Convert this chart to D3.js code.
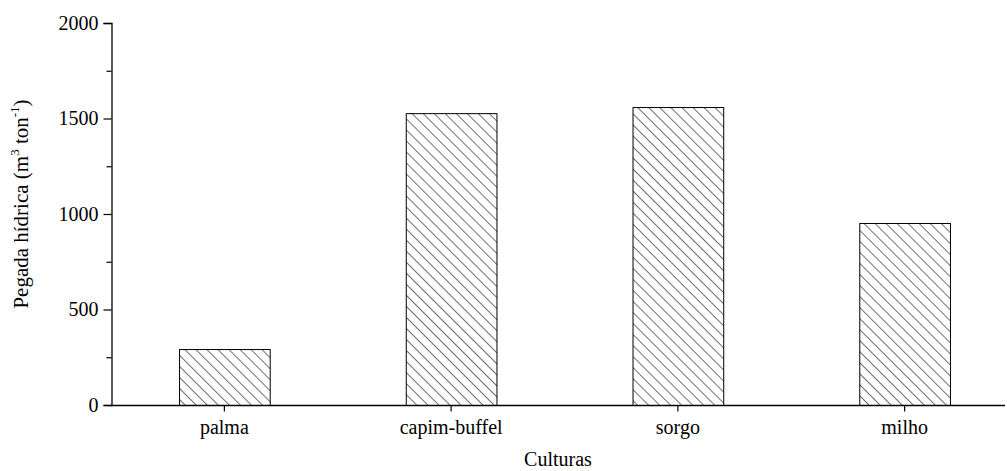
<!DOCTYPE html>
<html>
<head>
<meta charset="utf-8">
<script src="https://cdn.jsdelivr.net/npm/d3@7"></script>
<style>
  html, body { margin: 0; padding: 0; background: #fff; }
</style>
</head>
<body>
<svg id="chart" width="1007" height="471"></svg>
<script>
// Water footprint per crop
const categories = ["palma", "capim-buffel", "sorgo", "milho"];
const values = [293, 1528, 1560, 953];
const yTicks = [0, 500, 1000, 1500, 2000];
const yMinorTicks = [250, 750, 1250, 1750];

const serif = '"Liberation Serif"';
const svg = d3.select("#chart");
const plotLeft = 111, plotRight = 1018, plotTop = 23, plotBottom = 405;

// diagonal hatch fill
const defs = svg.append("defs");
const pat = defs.append("pattern")
  .attr("id", "hatch")
  .attr("patternUnits", "userSpaceOnUse")
  .attr("width", 7.8).attr("height", 7.8)
  .attr("patternTransform", "rotate(-45)");
pat.append("rect").attr("width", 7.8).attr("height", 7.8).attr("fill", "#fff");
pat.append("line")
  .attr("x1", 0).attr("y1", 0).attr("x2", 0).attr("y2", 7.8)
  .attr("stroke", "#111").attr("stroke-width", 1.2);

const x = d3.scaleBand()
  .domain(categories)
  .range([plotLeft, plotRight])
  .paddingInner(0.6)
  .paddingOuter(0.3);

const y = d3.scaleLinear().domain([0, 2000]).range([plotBottom, plotTop]);

// bars
svg.append("g").selectAll("rect")
  .data(categories)
  .join("rect")
  .attr("x", d => x(d) + 0.5)
  .attr("y", (d, i) => y(values[i]) + 0.5)
  .attr("width", x.bandwidth())
  .attr("height", (d, i) => y(0) - y(values[i]))
  .attr("fill", "url(#hatch)")
  .attr("stroke", "#000")
  .attr("stroke-width", 1);

function styleText(sel, size = 20) {
  sel.style("font-family", serif).style("font-size", size + "px").style("fill", "#000");
}

// y axis
const yAxis = svg.append("g")
  .attr("transform", `translate(${plotLeft + 0.5},0)`)
  .call(d3.axisLeft(y).tickValues(yTicks).tickSize(8).tickPadding(5).tickFormat(d3.format("d")));
yAxis.select(".domain").attr("stroke", "#000").attr("stroke-width", 1.3);
yAxis.selectAll(".tick line").attr("stroke", "#000").attr("stroke-width", 1.2);
yAxis.selectAll(".tick text").call(styleText);

const yMinor = svg.append("g")
  .attr("transform", `translate(${plotLeft + 0.5},0)`)
  .call(d3.axisLeft(y).tickValues(yMinorTicks).tickSize(5).tickFormat(""));
yMinor.select(".domain").remove();
yMinor.selectAll(".tick line").attr("stroke", "#000").attr("stroke-width", 1.2);

// x axis
const xAxis = svg.append("g")
  .attr("transform", `translate(0,${plotBottom + 0.5})`)
  .call(d3.axisBottom(x).tickSize(6).tickPadding(8).tickSizeOuter(0));
xAxis.select(".domain").attr("stroke", "#000").attr("stroke-width", 1.3)
  .attr("d", `M${plotLeft},0H1005`);
xAxis.selectAll(".tick line").attr("stroke", "#000").attr("stroke-width", 1.2);
xAxis.selectAll(".tick text").call(styleText);

// axis titles
svg.append("text")
  .attr("x", (plotLeft + 1005) / 2)
  .attr("y", 466)
  .attr("text-anchor", "middle")
  .call(styleText)
  .text("Culturas");

const yt = svg.append("text")
  .attr("transform", `translate(28,204) rotate(-90)`)
  .attr("text-anchor", "middle")
  .call(styleText, 21);
yt.append("tspan").text("Pegada hídrica (m");
yt.append("tspan").attr("dy", -9).style("font-size", "13px").text("3");
yt.append("tspan").attr("dy", 9).text(" ton");
yt.append("tspan").attr("dy", -9).style("font-size", "13px").text("-1");
yt.append("tspan").attr("dy", 9).text(")");
</script>
</body>
</html>
